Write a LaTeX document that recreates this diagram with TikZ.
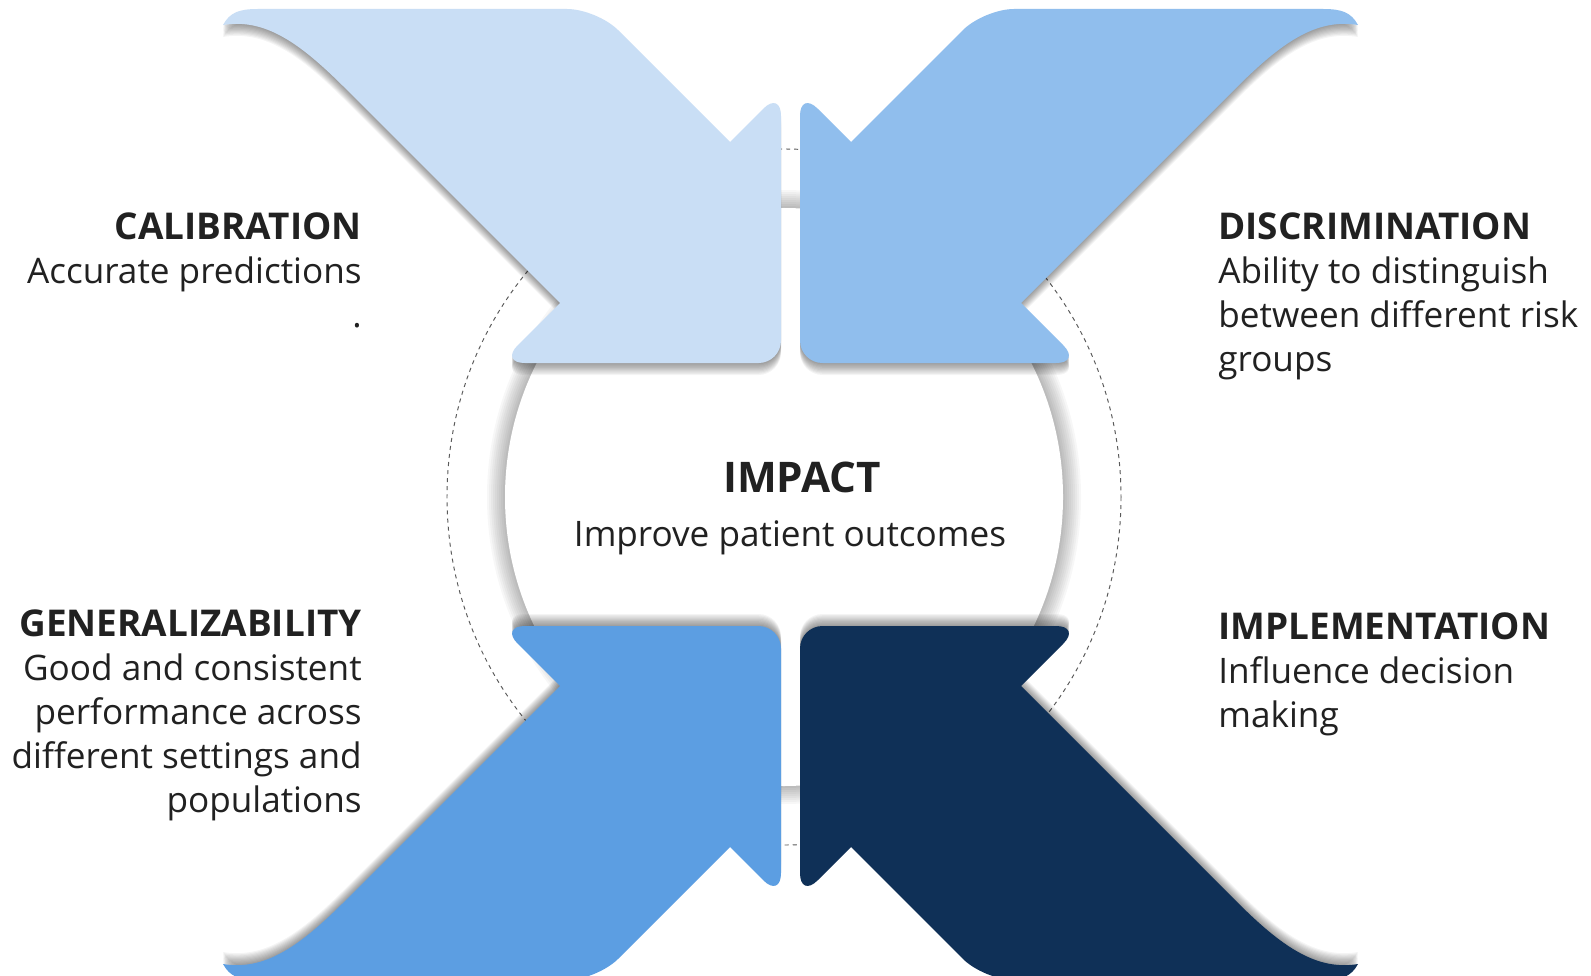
\documentclass[tikz,border=0pt]{standalone}
\usepackage{fontspec}
\setmainfont{Open Sans}
\usepackage{xcolor}
\definecolor{calibblue}{RGB}{201,222,245}
\definecolor{discrblue}{RGB}{144,190,237}
\definecolor{generalblue}{RGB}{92,158,226}
\definecolor{implemnavy}{RGB}{15,48,87}
\definecolor{labeltext}{RGB}{33,33,33}
\definecolor{ringgray}{RGB}{90,90,90}
\usepackage{tikz}
\usetikzlibrary{positioning}

% outline of the upper left arrow (pixel grid, y pointing down)
\newcommand{\arrowoutline}{%
  (258,9) [rounded corners=0.6cm] -- (597,9) [sharp corners] -- (730,142)
  [rounded corners=0.5cm] -- (781,91) [rounded corners=0.45cm] -- (781,363)
  [rounded corners=0.5cm] -- (500,363) [sharp corners] -- (560,303) -- (345,88)
  .. controls (300,43) and (265,18) .. (223,25)
  .. controls (230,12) and (240,9) .. (258,9) -- cycle}

% arrow with its soft shadow, placed by a transform
\newcommand{\arrowpiece}[2]{%
  \begin{scope}[#1]
    \foreach \d in {1,...,10}
      \fill[black, opacity=0.045, shift={(0,1.2*\d)}] \arrowoutline;
    \fill[#2] \arrowoutline;
  \end{scope}}

\newcommand{\heading}[1]{{\fontsize{21}{25}\selectfont\bfseries #1}}

\begin{document}
\begin{tikzpicture}[
    x=0.02cm, y=-0.02cm,
    lbl/.style={font=\fontsize{20}{25}\selectfont, text=labeltext, inner sep=0pt},
    leftlbl/.style={lbl, align=right, anchor=base east},
    rightlbl/.style={lbl, align=left, anchor=base west},
    ring/.style={draw=ringgray, line width=0.55pt, dash pattern=on 2.3pt off 2.3pt}
]
\clip (0,0) rectangle (1591,976);
\fill[white] (0,0) rectangle (1591,976);

% dashed orbit and the centre disc
\draw[ring] (784,497) ellipse [x radius=337, y radius=348];
\foreach \g in {18,16,...,2}
  \fill[black, opacity=0.03] (784,497) ellipse [x radius=279+\g, y radius=289+\g];
\fill[white] (784,497) ellipse [x radius=279, y radius=289];

% the four arrows
\arrowpiece{}{calibblue}
\arrowpiece{shift={(1581,0)}, xscale=-1}{discrblue}
\arrowpiece{shift={(0,989)}, yscale=-1}{generalblue}
\arrowpiece{shift={(1581,989)}, scale=-1}{implemnavy}

% labels (anchored on the baseline of their last line)
\node[leftlbl] (calib) at (362,327) {\heading{CALIBRATION}\\Accurate predictions\\.};
\node[rightlbl] (discr) at (1218,371) {\heading{DISCRIMINATION}\\Ability to distinguish\\between different risk\\groups};
\node[leftlbl] (general) at (362,812) {\heading{GENERALIZABILITY}\\Good and consistent\\performance across\\different settings and\\populations};
\node[rightlbl] (implem) at (1218,727) {\heading{IMPLEMENTATION}\\Influence decision\\making};

\node[lbl, anchor=base, font=\fontsize{24}{28}\selectfont\bfseries] (impact) at (802,492) {IMPACT};
\node[lbl, anchor=base] (impacttext) at (790,546) {Improve patient outcomes};

\end{tikzpicture}
\end{document}
